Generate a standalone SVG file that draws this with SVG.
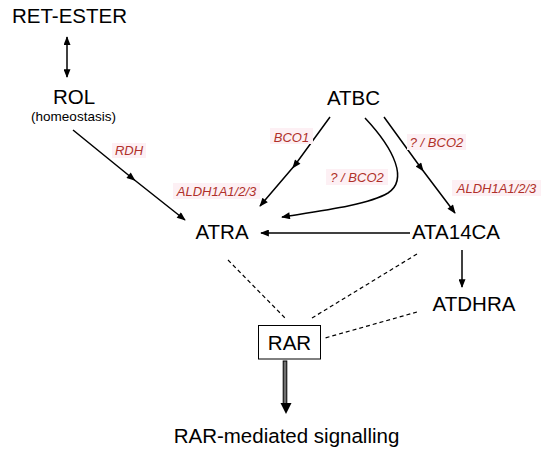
<svg xmlns="http://www.w3.org/2000/svg" width="550" height="452" viewBox="0 0 550 452">
<style>
.t{font-family:"Liberation Sans",Arial,sans-serif;font-size:20.5px;fill:#000;text-anchor:middle}
.s{font-family:"Liberation Sans",Arial,sans-serif;font-size:13.5px;fill:#000;text-anchor:middle}
.e{font-family:"Liberation Sans",Arial,sans-serif;font-size:13px;font-style:italic;fill:#b0302a;text-anchor:middle}
.bg{fill:#fdf0f4}
.c{fill:none;stroke:#000;stroke-width:1.5}
.d{fill:none;stroke:#000;stroke-width:1.2;stroke-dasharray:4 3}
</style>
<defs>
<marker id="ah" viewBox="0 0 10 8" refX="9" refY="4" markerWidth="10" markerHeight="7" markerUnits="userSpaceOnUse" orient="auto">
<path d="M0,0 L10,4 L0,8 Z" fill="#000"/>
</marker>
<marker id="as" viewBox="0 0 10 8" refX="1" refY="4" markerWidth="10" markerHeight="7" markerUnits="userSpaceOnUse" orient="auto">
<path d="M10,0 L0,4 L10,8 Z" fill="#000"/>
</marker>
<marker id="am" viewBox="0 0 10 8" refX="5" refY="4" markerWidth="10" markerHeight="7" markerUnits="userSpaceOnUse" orient="auto">
<path d="M0,0 L10,4 L0,8 Z" fill="#000"/>
</marker>
</defs>
<g id="connectors">
<line class="c" x1="67" y1="37" x2="67" y2="77" marker-start="url(#as)" marker-end="url(#ah)"/>
<path class="c" d="M73,130 L132,178 L185,220" marker-mid="url(#am)" marker-end="url(#ah)"/>
<path class="c" d="M330,117 L295,165 L260,206" marker-mid="url(#am)" marker-end="url(#ah)"/>
<path class="c" d="M365,118 C395,150 408,180 388,193 C368,205 320,211 282,217" marker-end="url(#ah)"/>
<path class="c" d="M384,117 L421,168 L455,213" marker-mid="url(#am)" marker-end="url(#ah)"/>
<line class="c" x1="410" y1="233" x2="261" y2="233" marker-end="url(#ah)"/>
<line class="c" x1="462" y1="250" x2="462" y2="287" marker-end="url(#ah)"/>
<line class="d" x1="228" y1="260" x2="285" y2="318"/>
<line class="d" x1="417" y1="254" x2="312" y2="318"/>
<line class="d" x1="417" y1="312" x2="325" y2="338"/>
<rect x="283.2" y="361" width="3.6" height="43" fill="#6e6e6e" stroke="#000" stroke-width="1"/>
<path d="M280.5,403 L291.5,403 L286,414 Z" fill="#000"/>
</g>
<g id="labels">
<rect class="bg" x="112" y="143" width="34" height="15"/>
<text class="e" x="129" y="155">RDH</text>
<rect class="bg" x="173" y="183" width="87" height="16"/>
<text class="e" x="216.5" y="195.5">ALDH1A1/2/3</text>
<rect class="bg" x="270" y="128" width="43" height="16"/>
<text class="e" x="291.5" y="141.5">BCO1</text>
<rect class="bg" x="326" y="169" width="62" height="16"/>
<text class="e" x="357" y="182">? / BCO2</text>
<rect class="bg" x="407" y="134" width="59" height="16"/>
<text class="e" x="436.5" y="147">? / BCO2</text>
<rect class="bg" x="452" y="180" width="89" height="16"/>
<text class="e" x="496.5" y="193">ALDH1A1/2/3</text>
</g>
<g id="RET-ESTER"><text class="t" x="69.5" y="22.5">RET-ESTER</text></g>
<g id="ROL"><text class="t" x="74" y="104">ROL</text><text class="s" x="73.5" y="121">(homeostasis)</text></g>
<g id="ATBC"><text class="t" x="353.5" y="105">ATBC</text></g>
<g id="ATRA"><text class="t" x="222" y="238.5">ATRA</text></g>
<g id="ATA14CA"><text class="t" x="456" y="238.5">ATA14CA</text></g>
<g id="ATDHRA"><text class="t" x="474" y="311">ATDHRA</text></g>
<g id="RAR"><rect x="258.5" y="325.5" width="62" height="33.5" fill="#fff" stroke="#000" stroke-width="1"/><text class="t" x="289.5" y="350">RAR</text></g>
<g id="signalling"><text class="t" x="286.5" y="443">RAR-mediated signalling</text></g>
</svg>
